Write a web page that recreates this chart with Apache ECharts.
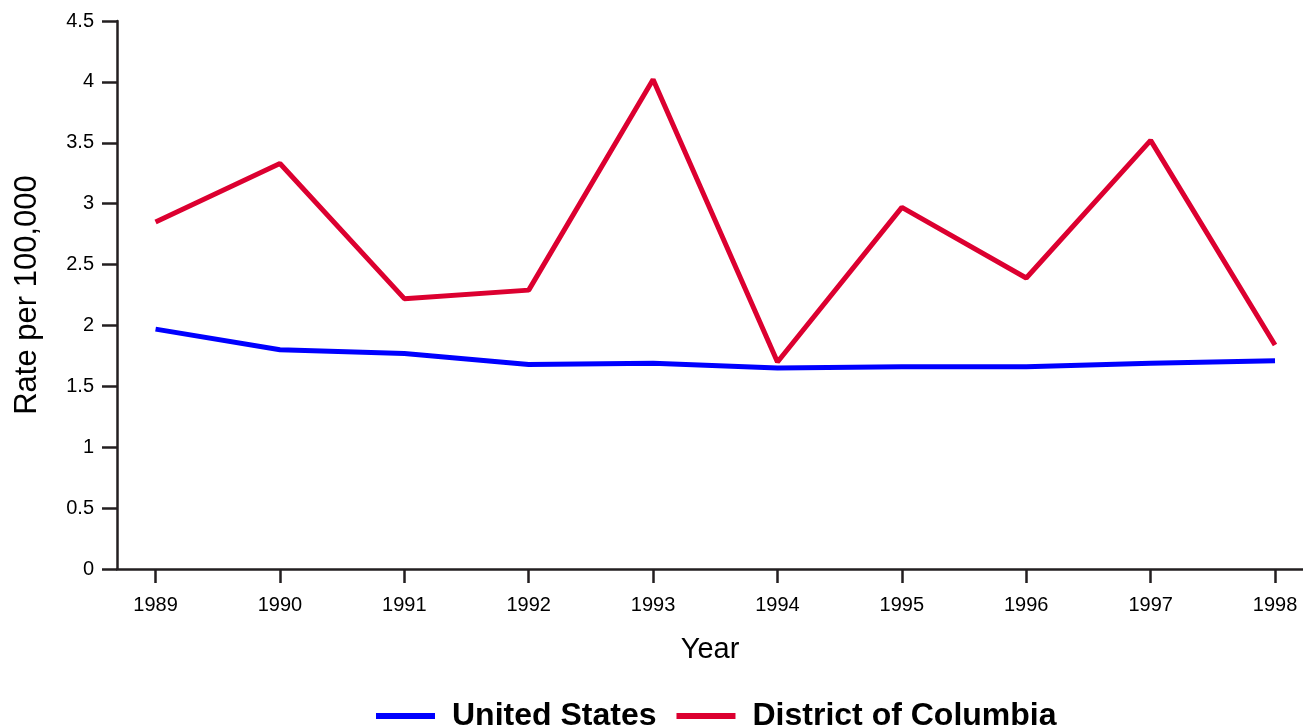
<!DOCTYPE html>
<html>
<head>
<meta charset="utf-8">
<script src="https://cdn.jsdelivr.net/npm/echarts@6/dist/echarts.min.js"></script>
<style>
html, body { margin: 0; padding: 0; background: #fff; }
#chart { width: 1303px; height: 727px; }
</style>
</head>
<body>
<div id="chart"></div>
<script>
// data
const years = [1989, 1990, 1991, 1992, 1993, 1994, 1995, 1996, 1997, 1998]
const unitedStates = [1.97, 1.80, 1.77, 1.68, 1.69, 1.65, 1.66, 1.66, 1.69, 1.71]
const districtOfColumbia = [2.85, 3.33, 2.22, 2.29, 4.02, 1.70, 2.97, 2.39, 3.52, 1.84]
const yTicks = [0, 0.5, 1, 1.5, 2, 2.5, 3, 3.5, 4, 4.5]

const font = 'Arial, "Liberation Sans", Helvetica, sans-serif'
const axisColor = '#231f20'

const chart = echarts.init(document.getElementById('chart'), null, { renderer: 'canvas' })

const option = {
    animation: false,
    backgroundColor: '#fff',
    textStyle: { fontFamily: font },
    grid: {
        left: 117,
        right: 0,
        top: 21,
        bottom: 158,
        containLabel: false
    },
    legend: {
        left: 371,
        top: 695,
        icon: 'rect',
        itemWidth: 59,
        itemHeight: 6,
        itemGap: 20,
        textStyle: {
            fontFamily: font,
            fontSize: 32,
            fontWeight: 'bold',
            color: '#000',
            padding: [0, 0, 0, 12]
        },
        data: ['United States', 'District of Columbia']
    },
    xAxis: {
        type: 'value',
        min: 1988.69,
        max: 1998.225,
        name: 'Year',
        nameLocation: 'middle',
        nameGap: 66,
        nameTextStyle: { fontSize: 29, color: '#000', fontFamily: font },
        splitLine: { show: false },
        axisLine: { show: true, lineStyle: { color: axisColor, width: 2.5 } },
        axisTick: {
            show: true,
            length: 14,
            customValues: years,
            lineStyle: { color: axisColor, width: 2.5 }
        },
        axisLabel: {
            customValues: years,
            margin: 26,
            fontSize: 20,
            color: '#000',
            formatter: v => String(v)
        }
    },
    yAxis: {
        type: 'value',
        min: 0,
        max: 4.5,
        interval: 0.5,
        name: 'Rate per 100,000',
        nameLocation: 'middle',
        nameGap: 74,
        nameTextStyle: { fontSize: 31, color: '#000', fontFamily: font },
        splitLine: { show: false },
        axisLine: { show: true, lineStyle: { color: axisColor, width: 2.5 } },
        axisTick: {
            show: true,
            length: 15,
            lineStyle: { color: axisColor, width: 2.5 }
        },
        axisLabel: {
            margin: 23,
            fontSize: 20,
            color: '#000',
            customValues: yTicks,
            formatter: v => String(v)
        }
    },
    series: [
        {
            name: 'United States',
            type: 'line',
            data: years.map((y, i) => [y, unitedStates[i]]),
            showSymbol: false,
            color: '#0000ff',
            lineStyle: { width: 5, color: '#0000ff' }
        },
        {
            name: 'District of Columbia',
            type: 'line',
            data: years.map((y, i) => [y, districtOfColumbia[i]]),
            showSymbol: false,
            color: '#dc0030',
            lineStyle: { width: 5, color: '#dc0030' }
        }
    ]
}

chart.setOption(option)
</script>
</body>
</html>
